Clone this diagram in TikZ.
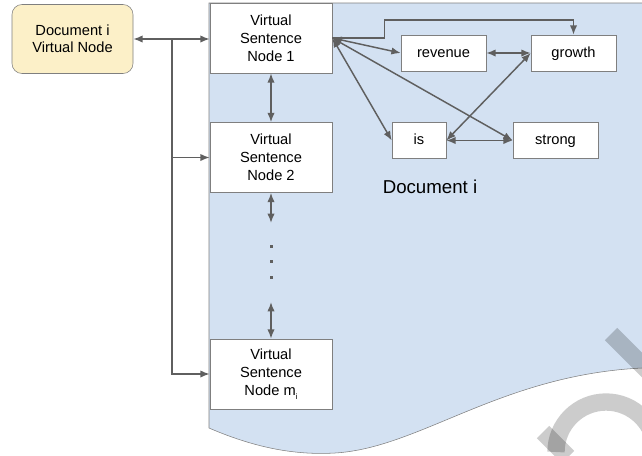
\documentclass[tikz,border=0pt]{standalone}
\usepackage{fontspec}
\setmainfont{Liberation Sans}
\usetikzlibrary{arrows.meta}

\definecolor{docblue}{RGB}{211,225,242}
\definecolor{noteyellow}{RGB}{252,240,200}
\definecolor{edgegrey}{RGB}{95,95,95}

\tikzset{
	vsent/.style = {draw=edgegrey!80, fill=white, minimum width=91.5pt, minimum height=52.5pt,
		align=center, inner sep=0pt, font=\fontsize{11}{13.5}\selectfont},
	word/.style = {draw=edgegrey!80, fill=white, minimum height=27pt, inner sep=0pt,
		text height=8pt, text depth=2pt, font=\fontsize{11}{13}\selectfont},
	link/.style = {edgegrey, line width=1.1pt}
}

\begin{document}
\begin{tikzpicture}[x=0.75pt, y=-0.75pt, >={Latex[length=7pt,width=5.5pt]}]
	\useasboundingbox (0,0) rectangle (642,455);
	\clip (0,0) rectangle (642,455);
	% the document page
	\filldraw[fill=docblue, draw=edgegrey!80] (209,3) -- (660,3) -- (660,368) -- (642,368)
		.. controls (500,375) and (420,448) .. (335,453)
		.. controls (300,455) and (260,450) .. (209,428) -- cycle;
	\node[font=\fontsize{14}{16}\selectfont] (doclabel) at (430,187) {Document i};
	% virtual nodes
	\node[vsent, fill=noteyellow, rounded corners=7.5pt, minimum width=90.75pt, minimum height=51.75pt,
		font=\fontsize{11}{12.75}\selectfont] (docnode) at (72.5,39) {Document i\\Virtual Node};
	\node[vsent] (vsn1) at (271,38) {Virtual\\Sentence\\Node 1};
	\node[vsent] (vsn2) at (271,157.5) {Virtual\\Sentence\\Node 2};
	\node[vsent] (vsnm) at (271,374) {Virtual\\Sentence\\Node m\raisebox{-0.5ex}{\fontsize{6}{6}\selectfont i}};
	% words of sentence 1
	\node[word, minimum width=63.75pt] (revenue) at (443.5,53) {revenue};
	\node[word, minimum width=63.75pt] (growth) at (573.5,53) {growth};
	\node[word, minimum width=40.5pt] (is) at (419,140.5) {is};
	\node[word, minimum width=63.75pt] (strong) at (555.5,140.5) {strong};

	% document node to sentence nodes
	\coordinate (split) at (172,39);
	\draw[link, <->] (docnode.east) -- (docnode.east -| vsn1.west);
	\draw[link, ->] (split) |- (vsn2.west);
	\draw[link, ->] (split) |- (vsnm.west);
	% chain of sentence nodes
	\coordinate (gaptop) at (271,223);
	\coordinate (gapbot) at (271,302);
	\draw[link, <->] (vsn1) -- (vsn2);
	\draw[link, <->] (vsn2) -- (gaptop);
	\draw[link, <->] (gapbot) -- (vsnm);
	\foreach \y in {245,260,276}
		\fill[edgegrey] (269.5,\y) rectangle ++(3,3);
	% word graph
	\draw[link, <->] (vsn1.east) -- (revenue.west);
	\draw[link, <->] (vsn1.east) -- (is.west);
	\draw[link, <->] (vsn1.east) -- (strong.west);
	\draw[link, ->] (vsn1.east) -- ++(52,0) -- ++(0,-18) -| (growth.north);
	\draw[link, <->] (revenue) -- (growth);
	\draw[link, <->] (growth.west) -- (is.east);
	\draw[link, <->] (is) -- (strong);

	% watermark
	\begin{scope}[black, opacity=0.2, line width=13pt]
		\draw (611,334) -- (665,388);
		\draw (606,452) ++(180:50) arc[start angle=180, end angle=360, radius=50];
		\draw (543,432) -- (568,457);
	\end{scope}
\end{tikzpicture}
\end{document}
